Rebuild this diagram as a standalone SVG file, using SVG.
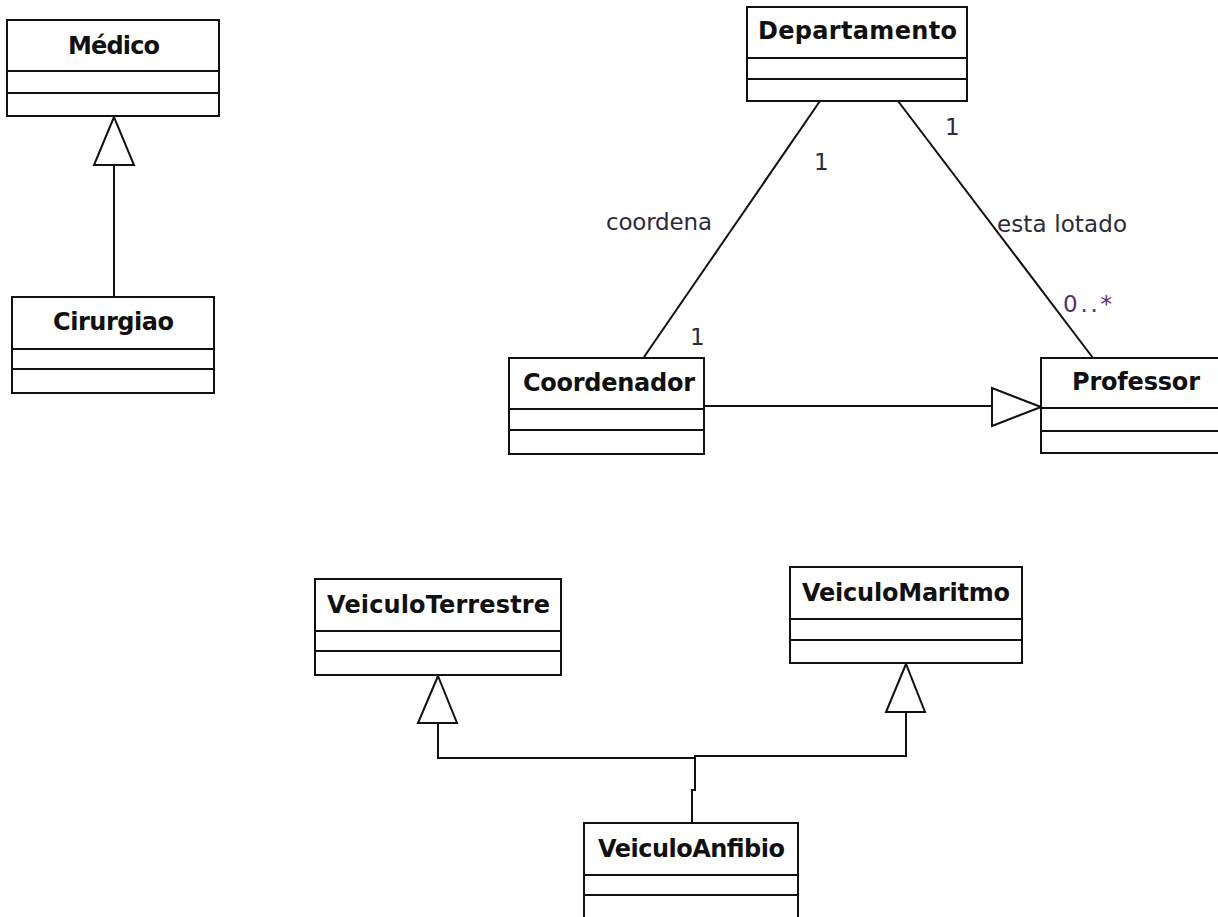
<svg xmlns="http://www.w3.org/2000/svg" width="1218" height="917" viewBox="0 0 1218 917">
<style>
.box{fill:#fff;stroke:#111;stroke-width:2}
.div{stroke:#111;stroke-width:2}
.name{font-family:"DejaVu Sans",Verdana,sans-serif;font-weight:bold;font-size:24px;fill:#111}
.lbl{font-family:"DejaVu Sans",Verdana,sans-serif;font-size:23px;fill:#2a2a3a}
.mul{font-family:"DejaVu Sans",Verdana,sans-serif;font-size:23px;fill:#5a2a7a}
.ln{fill:none;stroke:#111;stroke-width:2}
.tri{fill:#fff;stroke:#111;stroke-width:2}
</style>
<rect width="1218" height="917" fill="#fff"/>
<g id="connectors">
  <path class="ln" d="M114 165 V297"/>
  <polygon class="tri" points="114,117 94,165 134,165"/>
  <path class="ln" d="M820 101 L644 357"/>
  <path class="ln" d="M898 101 L1093 358"/>
  <path class="ln" d="M704 406 H992"/>
  <polygon class="tri" points="1041,407 992,388 992,426"/>
  <path class="ln" d="M438 723 V758 H695"/>
  <polygon class="tri" points="438,676 418,723 457,723"/>
  <path class="ln" d="M906 712 V756 H695 V790 H692 V823"/>
  <polygon class="tri" points="906,664 886,712 925,712"/>
  <text class="lbl" x="814" y="170">1</text>
  <text class="lbl" x="606" y="230" textLength="106">coordena</text>
  <text class="lbl" x="690" y="345">1</text>
  <text class="lbl" x="945" y="135">1</text>
  <text class="lbl" x="997" y="232" textLength="130">esta lotado</text>
  <text class="mul" x="1063" y="312" textLength="49">0..*</text>
</g>
<g id="medico">
  <rect class="box" x="7" y="20" width="212" height="96"/>
  <line class="div" x1="7" y1="71" x2="219" y2="71"/>
  <line class="div" x1="7" y1="93" x2="219" y2="93"/>
  <text class="name" x="68" y="54" textLength="92">Médico</text>
</g>
<g id="cirurgiao">
  <rect class="box" x="12" y="297" width="202" height="96"/>
  <line class="div" x1="12" y1="349" x2="214" y2="349"/>
  <line class="div" x1="12" y1="369" x2="214" y2="369"/>
  <text class="name" x="53" y="330" textLength="121">Cirurgiao</text>
</g>
<g id="departamento">
  <rect class="box" x="747" y="7" width="220" height="94"/>
  <line class="div" x1="747" y1="58" x2="967" y2="58"/>
  <line class="div" x1="747" y1="79" x2="967" y2="79"/>
  <text class="name" x="758" y="39" textLength="199">Departamento</text>
</g>
<g id="coordenador">
  <rect class="box" x="509" y="358" width="195" height="96"/>
  <line class="div" x1="509" y1="409" x2="704" y2="409"/>
  <line class="div" x1="509" y1="430" x2="704" y2="430"/>
  <text class="name" x="523" y="391" textLength="172">Coordenador</text>
</g>
<g id="professor">
  <rect class="box" x="1041" y="358" width="191" height="95"/>
  <line class="div" x1="1041" y1="408" x2="1232" y2="408"/>
  <line class="div" x1="1041" y1="431" x2="1232" y2="431"/>
  <text class="name" x="1072" y="390" textLength="128">Professor</text>
</g>
<g id="veiculoTerrestre">
  <rect class="box" x="315" y="579" width="246" height="96"/>
  <line class="div" x1="315" y1="631" x2="561" y2="631"/>
  <line class="div" x1="315" y1="651" x2="561" y2="651"/>
  <text class="name" x="327" y="613" textLength="223">VeiculoTerrestre</text>
</g>
<g id="veiculoMaritmo">
  <rect class="box" x="790" y="567" width="232" height="96"/>
  <line class="div" x1="790" y1="619" x2="1022" y2="619"/>
  <line class="div" x1="790" y1="640" x2="1022" y2="640"/>
  <text class="name" x="802" y="601" textLength="208">VeiculoMaritmo</text>
</g>
<g id="veiculoAnfibio">
  <rect class="box" x="584" y="823" width="214" height="97"/>
  <line class="div" x1="584" y1="875" x2="798" y2="875"/>
  <line class="div" x1="584" y1="895" x2="798" y2="895"/>
  <text class="name" x="598" y="857" textLength="187">VeiculoAnfibio</text>
</g>
</svg>
